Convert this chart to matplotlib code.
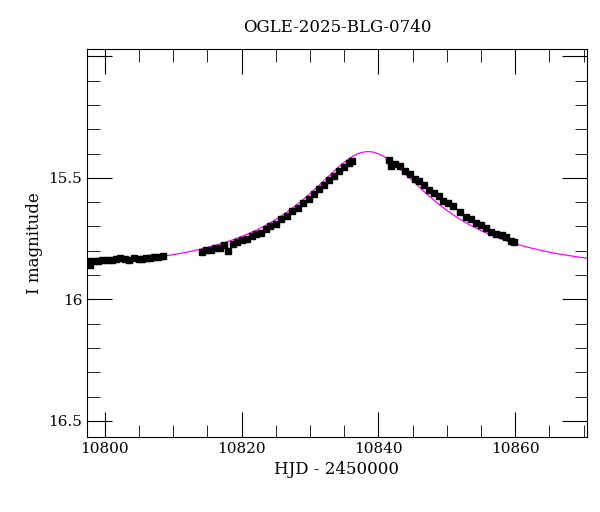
import numpy as np
import matplotlib
matplotlib.use("Agg")
import matplotlib.pyplot as plt
from matplotlib.ticker import MultipleLocator

title = "OGLE-2025-BLG-0740"
hjd = [10797.5, 10797.8, 10798.4, 10799.0, 10799.6, 10800.3, 10801.0, 10801.6, 10802.2,
       10803.0, 10803.6, 10804.3, 10805.0, 10805.5, 10806.0, 10806.6, 10807.2, 10807.8, 10808.5,
       10814.2, 10814.8, 10815.5, 10816.1, 10816.8, 10817.4, 10818.0, 10818.7, 10819.4, 10820.0,
       10820.8, 10821.5, 10822.1, 10822.8, 10823.5, 10824.2, 10825.0, 10825.8, 10826.6, 10827.4,
       10828.2, 10829.0, 10829.8, 10830.6, 10831.3, 10832.0, 10832.8, 10833.5, 10834.3, 10835.0,
       10835.7, 10836.2,
       10841.6, 10841.9, 10842.5, 10843.2, 10843.9, 10844.6, 10845.3, 10846.0, 10846.7, 10847.4,
       10848.1, 10848.8, 10849.5, 10850.2, 10850.9, 10852.0, 10852.8, 10853.5, 10854.2, 10855.0,
       10855.8, 10856.5, 10857.2, 10858.0, 10858.7, 10859.4, 10859.8]
imag = [15.840, 15.860, 15.842, 15.843, 15.838, 15.836, 15.838, 15.833, 15.830,
        15.834, 15.836, 15.830, 15.834, 15.832, 15.828, 15.830, 15.825, 15.824, 15.823,
        15.805, 15.795, 15.797, 15.790, 15.790, 15.777, 15.800, 15.772, 15.765, 15.757,
        15.752, 15.740, 15.733, 15.727, 15.712, 15.700, 15.690, 15.668, 15.655, 15.635,
        15.622, 15.603, 15.588, 15.565, 15.545, 15.530, 15.508, 15.493, 15.470, 15.455,
        15.440, 15.430,
        15.428, 15.450, 15.445, 15.452, 15.470, 15.485, 15.505, 15.515, 15.530, 15.548,
        15.562, 15.575, 15.595, 15.605, 15.615, 15.640, 15.660, 15.668, 15.685, 15.695,
        15.705, 15.722, 15.730, 15.735, 15.745, 15.760, 15.765]

# model parameters
t0, tE, u0, fs, m0 = 10838.5, 27.0, 0.3, 0.235, 15.885

t = np.linspace(10797.4, 10870.5, 600)
u = np.sqrt(u0**2 + ((t - t0) / tE)**2)
A = (u**2 + 2) / (u * np.sqrt(u**2 + 4))
model = m0 - 2.5 * np.log10(fs * A + 1 - fs)

plt.rcParams["font.family"] = "DejaVu Serif"
fig = plt.figure(figsize=(6.0, 5.12), dpi=100)
ax = fig.add_axes([87/600, 1 - 437/512, 500/600, 388/512])
ax.plot(t, model, color="magenta", lw=0.9, zorder=1)
ax.errorbar(hjd, imag, yerr=0.007, fmt="s", ms=4, color="black", ecolor="black",
            elinewidth=1, capsize=1.5, zorder=2)
ax.set_xlim(10797.4, 10870.5)
ax.set_ylim(16.566, 14.97)
ax.xaxis.set_major_locator(MultipleLocator(20))
ax.xaxis.set_minor_locator(MultipleLocator(5))
ax.yaxis.set_major_locator(MultipleLocator(0.5))
ax.yaxis.set_minor_locator(MultipleLocator(0.1))
ax.yaxis.set_major_formatter(plt.FuncFormatter(lambda v, p: "" if abs(v - 15) < 1e-6 else f"{v:g}"))
ax.tick_params(which="both", direction="in", top=True, right=True, labelsize=11)
ax.tick_params(which="major", length=18)
ax.tick_params(which="minor", length=9)
ax.set_title(title, fontsize=12, pad=12)
ax.set_xlabel("HJD - 2450000", fontsize=12)
ax.set_ylabel("I magnitude", fontsize=12)
fig.savefig("out.png", dpi=100)
